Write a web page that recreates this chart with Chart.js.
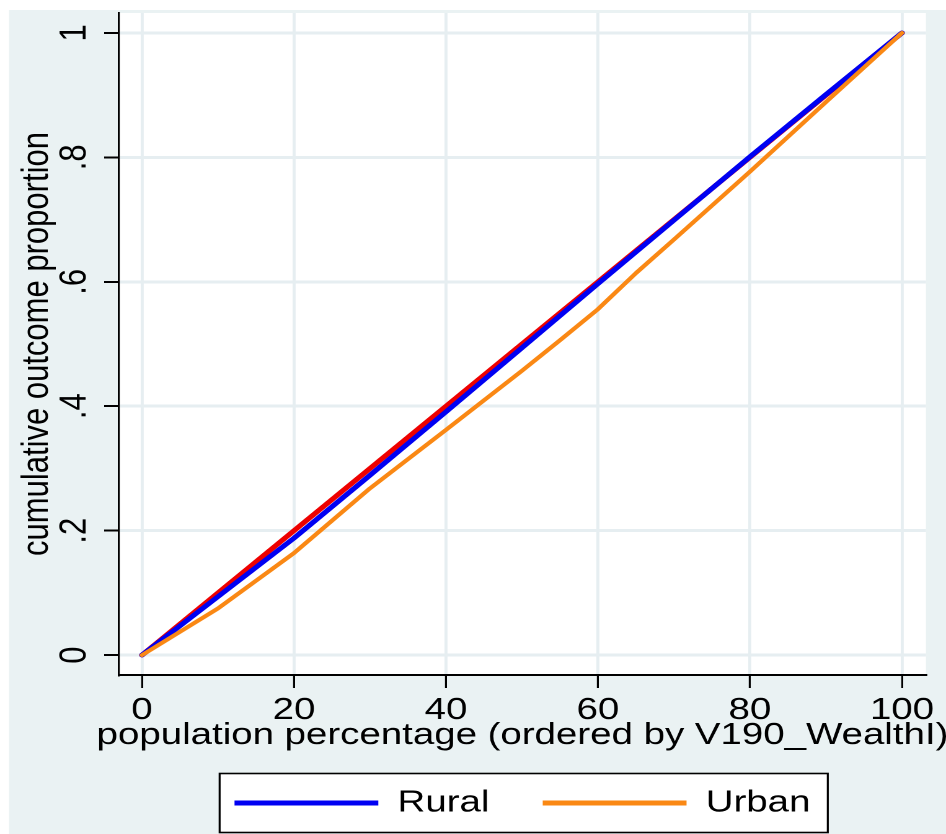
<!DOCTYPE html>
<html><head><meta charset="utf-8">
<script src="https://cdn.jsdelivr.net/npm/chart.js@4/dist/chart.umd.min.js"></script>
<style>
html,body{margin:0;padding:0;background:#fff;overflow:hidden;width:946px;height:834px;}
#wrap{width:763px;height:834px;transform:scaleX(1.23984);transform-origin:0 0;}
canvas{display:block;}
</style></head><body>
<div id="wrap"><canvas id="c" width="763" height="834"></canvas></div>
<script>
// ---- data ----
const popPct = [0, 10, 20, 30, 40, 50, 60, 70, 80, 90, 100];
const ruralShare = [0, 0.094, 0.188, 0.289, 0.391, 0.494, 0.597, 0.699, 0.801, 0.901, 1];
const urbanPct = [0, 10, 20, 30, 40, 50, 55, 60, 65, 70, 80, 90, 100];
const urbanShare = [0, 0.075, 0.164, 0.268, 0.362, 0.457, 0.506, 0.556, 0.614, 0.668, 0.777, 0.889, 1];
const equalityPct = [0, 100];
const equalityShare = [0, 1];
const seriesNames = ['Rural', 'Urban'];
const xTicks = [0, 20, 40, 60, 80, 100];
const yTicks = [0, 0.2, 0.4, 0.6, 0.8, 1];
const yTickLabels = ['0', '.2', '.4', '.6', '.8', '1'];
const xTitle = 'population percentage (ordered by V190_WealthI)';
const yTitle = 'cumulative outcome proportion';

// ---- style ----
const FONT = {family: '"Liberation Sans", Arial, Helvetica, sans-serif', size: 31, weight: 'normal'};
const BG = '#eaf2f3';
const GRID = '#e6eef1';
const BLUE = '#0000f2';
const ORANGE = '#fa8814';
const RED = '#ee0000';

const pts = (xs, ys) => xs.map((x, i) => ({x: x, y: ys[i]}));

const bgPlugin = {
  id: 'bg',
  beforeDraw(chart) {
    const {ctx, chartArea: a, width, height} = chart;
    // let the x-axis title run past the plot edges instead of being squeezed
    const sx = chart.scales.x;
    if (sx && !sx._wideTitle) {
      const orig = sx.drawTitle;
      sx.drawTitle = function () {
        const l = this.left, r = this.right;
        this.left = l - 200; this.right = r + 200;
        try { orig.call(this); } finally { this.left = l; this.right = r; }
      };
      sx._wideTitle = true;
    }
    ctx.save();
    ctx.fillStyle = '#ffffff';
    ctx.fillRect(0, 0, width, height);
    ctx.fillStyle = BG;
    ctx.fillRect(7.3, 10, width - 7.3, height - 10);
    ctx.fillStyle = '#ffffff';
    ctx.fillRect(a.left, a.top, a.right - a.left, a.bottom - a.top);
    const lg = chart.legend;
    if (lg && lg.legendHitBoxes && lg.legendHitBoxes.length) {
      const hb = lg.legendHitBoxes;
      const last = hb[hb.length - 1];
      const l = hb[0].left - 12, r = last.left + last.width + 14;
      const t = hb[0].top - 14, b = hb[0].top + hb[0].height + 14;
      ctx.fillStyle = '#ffffff';
      ctx.fillRect(l, t, r - l, b - t);
      ctx.strokeStyle = '#000';
      ctx.lineWidth = 1.6;
      ctx.strokeRect(l, t, r - l, b - t);
    }
    ctx.restore();
  }
};

new Chart(document.getElementById('c'), {
  type: 'line',
  data: {
    datasets: [
      {label: seriesNames[0], data: pts(popPct, ruralShare), borderColor: BLUE, backgroundColor: BLUE, borderWidth: 4.6, order: 1},
      {label: seriesNames[1], data: pts(urbanPct, urbanShare), borderColor: ORANGE, backgroundColor: ORANGE, borderWidth: 3.8, order: 0},
      {label: 'Equality', data: pts(equalityPct, equalityShare), borderColor: RED, backgroundColor: RED, borderWidth: 4.6, order: 2}
    ]
  },
  options: {
    responsive: false,
    animation: false,
    devicePixelRatio: 2,
    elements: {point: {radius: 0, hoverRadius: 0}, line: {tension: 0, borderCapStyle: 'round', borderJoinStyle: 'round'}},
    layout: {padding: {left: 0, top: 13, right: 16.2, bottom: 5.5}},
    events: [],
    scales: {
      x: {
        type: 'linear', min: -3.02, max: 103.15,
        afterBuildTicks: s => { s.ticks = xTicks.map(v => ({value: v})); },
        afterFit: s => { s.height = 69.5; s.paddingLeft = 0; s.paddingRight = 0; },
        ticks: {font: FONT, color: '#000', padding: 4, maxRotation: 0, autoSkip: false, callback: v => String(v)},
        grid: {color: GRID, lineWidth: 2.4, tickLength: 13, tickColor: '#000', tickWidth: 1.6},
        border: {color: '#000', width: 2},
        title: {display: true, text: xTitle, font: FONT, color: '#000', padding: {top: 0, bottom: -9.5}}
      },
      y: {
        type: 'linear', min: -0.032, max: 1.032,
        afterBuildTicks: s => { s.ticks = yTicks.map(v => ({value: v})); },
        afterFit: s => { s.width = 96; s.paddingTop = 0; s.paddingBottom = 0; },
        ticks: {font: FONT, color: '#000', padding: 10.5, minRotation: 90, maxRotation: 90, crossAlign: 'center', autoSkip: false,
                callback: (v, i) => yTickLabels[i]},
        grid: {color: GRID, lineWidth: 3, tickLength: 12, tickColor: '#000', tickWidth: 2},
        border: {color: '#000', width: 1.6},
        title: {display: true, text: yTitle, font: FONT, color: '#000', padding: {top: 11.4, bottom: 0}}
      }
    },
    plugins: {
      tooltip: {enabled: false},
      legend: {
        position: 'bottom',
        fullSize: false,
        labels: {
          font: FONT, color: '#000', boxWidth: 116, boxHeight: 5, padding: 43,
          generateLabels(chart) {
            const items = Chart.defaults.plugins.legend.labels.generateLabels(chart);
            items.forEach(it => { it.lineWidth = 0; });
            return items;
          },
          filter: item => seriesNames.includes(item.text),
          sort: (a, b) => a.datasetIndex - b.datasetIndex
        }
      }
    }
  },
  plugins: [bgPlugin]
});
</script>
</body></html>
